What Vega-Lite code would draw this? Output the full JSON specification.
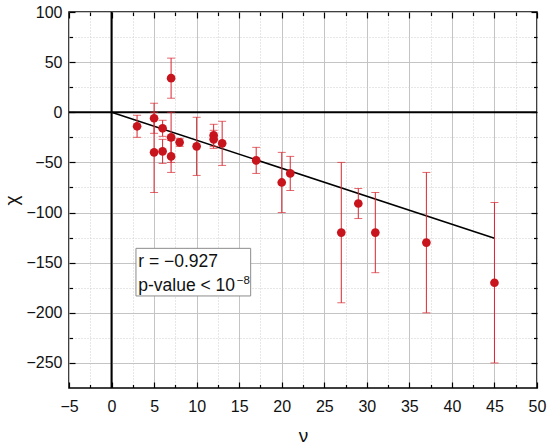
{
  "$schema": "https://vega.github.io/schema/vega-lite/v6.json",
  "width": 468,
  "height": 376,
  "autosize": {"type": "none"},
  "padding": {"left": 69, "top": 12, "right": 13, "bottom": 59},
  "config": {
    "font": "Liberation Sans",
    "view": {"stroke": "#000000", "strokeWidth": 1.5},
    "axis": {
      "domain": false,
      "labelFont": "Liberation Sans",
      "labelFontSize": 16,
      "labelColor": "#111111",
      "titleFont": "Liberation Sans",
      "titleFontWeight": "normal",
      "titleFontSize": 19,
      "titleColor": "#111111",
      "tickColor": "#000000",
      "tickWidth": 1.2,
      "gridColor": "#c4c4c4",
      "gridWidth": 1
    }
  },
  "datasets": {
    "obs": [
      {"nu": 3, "chi": -14, "err": 11},
      {"nu": 5, "chi": -6, "err": 15},
      {"nu": 5, "chi": -40, "err": 40},
      {"nu": 6, "chi": -16, "err": 8},
      {"nu": 6, "chi": -39, "err": 12},
      {"nu": 7, "chi": 34, "err": 20},
      {"nu": 7, "chi": -25, "err": 25},
      {"nu": 7, "chi": -44, "err": 16},
      {"nu": 8, "chi": -30, "err": 4},
      {"nu": 10, "chi": -34, "err": 29},
      {"nu": 12, "chi": -23, "err": 11},
      {"nu": 12, "chi": -27, "err": 9},
      {"nu": 13, "chi": -31, "err": 22},
      {"nu": 17, "chi": -48, "err": 13},
      {"nu": 20, "chi": -70, "err": 30},
      {"nu": 21, "chi": -61, "err": 17},
      {"nu": 27, "chi": -120, "err": 70},
      {"nu": 29, "chi": -91, "err": 15},
      {"nu": 31, "chi": -120, "err": 40},
      {"nu": 37, "chi": -130, "err": 70},
      {"nu": 45, "chi": -170, "err": 80}
    ],
    "fit": [
      {"nu": 0, "chi": 0},
      {"nu": 45, "chi": -125.6}
    ],
    "one": [{}]
  },
  "layer": [
    {
      "data": {"name": "one"},
      "mark": {"type": "rect", "fill": "#ffffff", "stroke": "#8c8c8c", "strokeWidth": 1},
      "encoding": {
        "x": {"datum": 2.87, "type": "quantitative", "scale": {"domain": [-5, 50], "nice": false, "zero": false},
          "axis": {"orient": "bottom", "values": [-2.5, 2.5, 7.5, 12.5, 17.5, 22.5, 27.5, 32.5, 37.5, 42.5, 47.5], "labels": false, "title": null, "grid": true, "gridDash": [1, 2], "gridColor": "#cfcfcf", "ticks": true, "tickSize": -3.5}},
        "x2": {"datum": 16.35},
        "y": {"datum": -135.7, "type": "quantitative", "scale": {"domain": [-275, 100], "nice": false, "zero": false},
          "axis": {"orient": "left", "values": [-225, -175, -125, -75, -25, 25, 75], "labels": false, "title": null, "grid": true, "gridDash": [1, 2], "gridColor": "#cfcfcf", "ticks": true, "tickSize": -3.5}},
        "y2": {"datum": -183.2}
      }
    },
    {
      "data": {"name": "one"},
      "mark": {"type": "rule", "color": "#000000", "strokeWidth": 2},
      "encoding": {
        "x": {"datum": 0, "type": "quantitative", "scale": {"domain": [-5, 50], "nice": false, "zero": false},
          "axis": {"orient": "top", "values": [-2.5, 2.5, 7.5, 12.5, 17.5, 22.5, 27.5, 32.5, 37.5, 42.5, 47.5], "labels": false, "title": null, "grid": false, "ticks": true, "tickSize": -3.5}}
      }
    },
    {
      "data": {"name": "one"},
      "mark": {"type": "rule", "color": "#000000", "strokeWidth": 2},
      "encoding": {
        "y": {"datum": 0, "type": "quantitative", "scale": {"domain": [-275, 100], "nice": false, "zero": false},
          "axis": {"orient": "right", "values": [-225, -175, -125, -75, -25, 25, 75], "labels": false, "title": null, "grid": false, "ticks": true, "tickSize": -3.5}}
      }
    },
    {
      "data": {"name": "fit"},
      "mark": {"type": "line", "color": "#000000", "strokeWidth": 1.6},
      "encoding": {
        "x": {"field": "nu", "type": "quantitative", "scale": {"domain": [-5, 50], "nice": false, "zero": false},
          "axis": {"orient": "bottom", "values": [-5, 0, 5, 10, 15, 20, 25, 30, 35, 40, 45, 50], "title": "ν", "grid": true, "ticks": true, "tickSize": -6, "labelPadding": 16, "titlePadding": 12, "labelFlush": false, "labelOverlap": false}},
        "y": {"field": "chi", "type": "quantitative", "scale": {"domain": [-275, 100], "nice": false, "zero": false},
          "axis": {"orient": "left", "values": [-250, -200, -150, -100, -50, 0, 50, 100], "title": "χ", "grid": true, "ticks": true, "tickSize": -6, "labelPadding": 13, "titlePadding": 4, "labelFlush": false, "labelOverlap": false}}
      }
    },
    {
      "data": {"name": "obs"},
      "mark": {"type": "errorbar", "color": "#d9262f", "thickness": 1, "ticks": {"size": 8, "color": "#d9262f"}},
      "encoding": {
        "x": {"field": "nu", "type": "quantitative", "scale": {"domain": [-5, 50], "nice": false, "zero": false}, "axis": null},
        "y": {"field": "chi", "type": "quantitative", "scale": {"domain": [-275, 100], "nice": false, "zero": false}, "axis": null},
        "yError": {"field": "err"}
      }
    },
    {
      "data": {"name": "obs"},
      "mark": {"type": "circle", "color": "#c8141c", "opacity": 1, "size": 75},
      "encoding": {
        "x": {"field": "nu", "type": "quantitative", "scale": {"domain": [-5, 50], "nice": false, "zero": false},
          "axis": {"orient": "top", "values": [-5, 0, 5, 10, 15, 20, 25, 30, 35, 40, 45, 50], "labels": false, "title": null, "grid": false, "ticks": true, "tickSize": -6}},
        "y": {"field": "chi", "type": "quantitative", "scale": {"domain": [-275, 100], "nice": false, "zero": false},
          "axis": {"orient": "right", "values": [-250, -200, -150, -100, -50, 0, 50, 100], "labels": false, "title": null, "grid": false, "ticks": true, "tickSize": -6}}
      }
    },
    {
      "data": {"name": "one"},
      "mark": {"type": "text", "text": "r = −0.927", "align": "left", "baseline": "alphabetic", "fontSize": 17.5, "font": "Liberation Sans", "color": "#111111"},
      "encoding": {
        "x": {"datum": 3.14, "type": "quantitative", "scale": {"domain": [-5, 50], "nice": false, "zero": false}, "axis": null},
        "y": {"datum": -154.6, "type": "quantitative", "scale": {"domain": [-275, 100], "nice": false, "zero": false}, "axis": null}
      }
    },
    {
      "data": {"name": "one"},
      "mark": {"type": "text", "text": "p-value < 10", "align": "left", "baseline": "alphabetic", "fontSize": 17.5, "font": "Liberation Sans", "color": "#111111"},
      "encoding": {
        "x": {"datum": 3.14, "type": "quantitative", "scale": {"domain": [-5, 50], "nice": false, "zero": false}, "axis": null},
        "y": {"datum": -178.3, "type": "quantitative", "scale": {"domain": [-275, 100], "nice": false, "zero": false}, "axis": null}
      }
    },
    {
      "data": {"name": "one"},
      "mark": {"type": "text", "text": "−8", "align": "left", "baseline": "alphabetic", "fontSize": 11.5, "font": "Liberation Sans", "color": "#111111"},
      "encoding": {
        "x": {"datum": 14.72, "type": "quantitative", "scale": {"domain": [-5, 50], "nice": false, "zero": false}, "axis": null},
        "y": {"datum": -171.3, "type": "quantitative", "scale": {"domain": [-275, 100], "nice": false, "zero": false}, "axis": null}
      }
    }
  ],
  "resolve": {"axis": {"x": "independent", "y": "independent"}}
}
